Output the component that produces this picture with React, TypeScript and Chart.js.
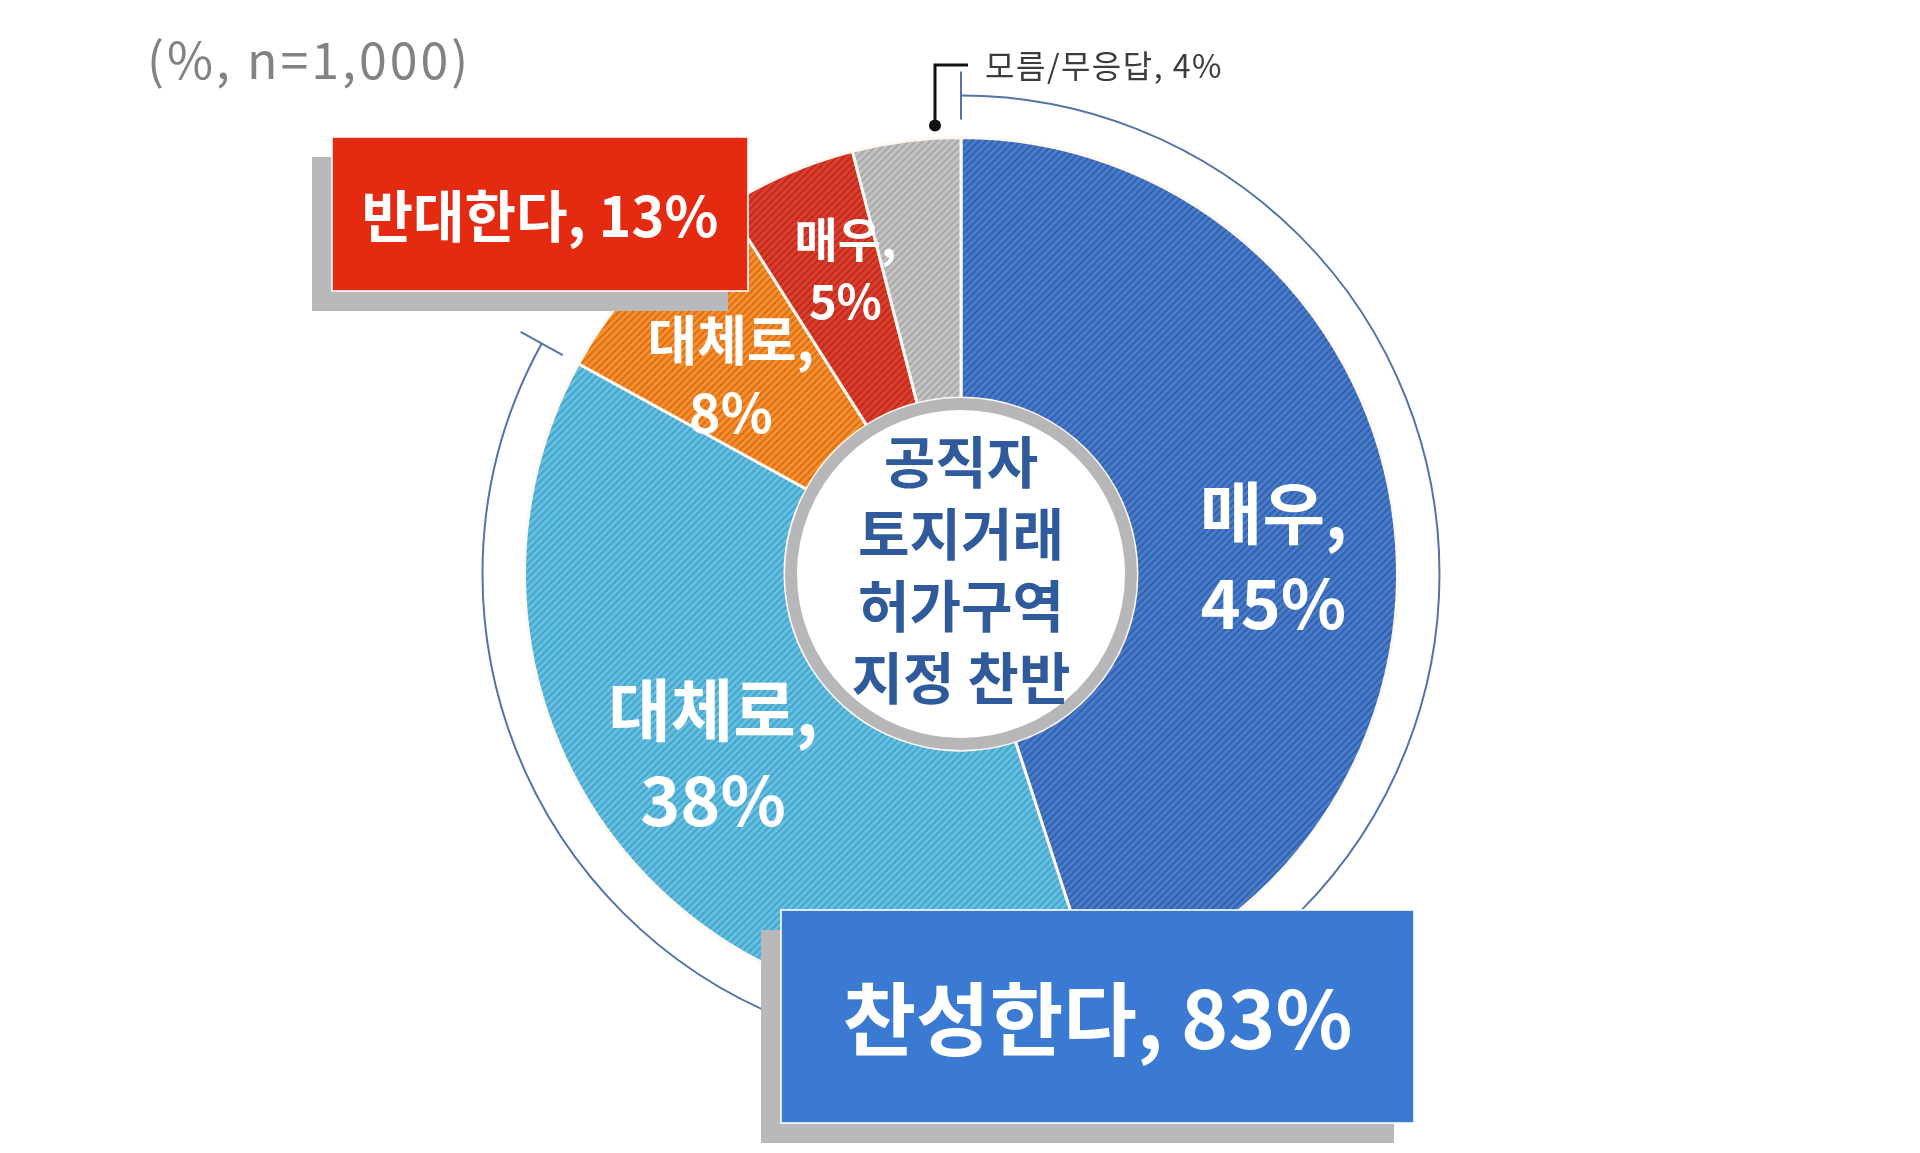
import React, { useEffect, useRef } from 'react';
import { Chart, registerables } from 'chart.js';

Chart.register(...registerables);

// survey data (%), clockwise from 12 o'clock
const categories = ['매우 찬성', '대체로 찬성', '대체로 반대', '매우 반대', '모름/무응답'];
const shortNames = ['매우', '대체로', '대체로', '매우', '모름/무응답'];
const values = [45, 38, 8, 5, 4];
const agreeIdx = [0, 1];
const disagreeIdx = [2, 3];
const agreeName = '찬성한다';
const disagreeName = '반대한다';
const centerLines = ['공직자', '토지거래', '허가구역', '지정 찬반'];
const note = '(%, n=1,000)';

const FONT = '"Noto Sans CJK KR", "Noto Sans", sans-serif';

function hatch(base: string, stripe: string) {
  const s = 7;
  const c = document.createElement('canvas');
  c.width = s;
  c.height = s;
  const g = c.getContext('2d')!;
  g.fillStyle = base;
  g.fillRect(0, 0, s, s);
  g.strokeStyle = stripe;
  g.lineWidth = 2.2;
  g.beginPath();
  g.moveTo(0, s);
  g.lineTo(s, 0);
  g.moveTo(-1, 1);
  g.lineTo(1, -1);
  g.moveTo(s - 1, s + 1);
  g.lineTo(s + 1, s - 1);
  g.stroke();
  return g.createPattern(c, 'repeat')!;
}

const sum = (idx: number[]) => idx.reduce((a, i) => a + values[i], 0);

function box(ctx: CanvasRenderingContext2D, x: number, y: number, w: number, h: number, fill: string, text: string, size: number) {
  ctx.fillStyle = '#b9b9bb';
  ctx.fillRect(x - 20, y + 20, w, h);
  ctx.fillStyle = fill;
  ctx.fillRect(x, y, w, h);
  ctx.strokeStyle = 'rgba(255,255,255,0.8)';
  ctx.lineWidth = 2;
  ctx.strokeRect(x, y, w, h);
  ctx.fillStyle = '#ffffff';
  ctx.font = `bold ${size}px ${FONT}`;
  ctx.textAlign = 'center';
  ctx.textBaseline = 'middle';
  ctx.fillText(text, x + w / 2, y + h / 2 + 2);
}

// label font size and nudge for each slice label
const labelStyle = [
  { size: 68, dx: 10, dy: 32 },
  { size: 68, dx: -12, dy: -14 },
  { size: 54, dx: -7, dy: 12 },
  { size: 47, dx: 6, dy: -23 },
];

const overlay = {
  id: 'overlay',
  afterDatasetsDraw(chart: any) {
    const ctx: CanvasRenderingContext2D = chart.ctx;
    const arcs = chart.getDatasetMeta(0).data;
    const { x: cx, y: cy, outerRadius: R, innerRadius: r } = arcs[0];

    ctx.save();

    // bracket arc for the "agree" group
    const ar = R + 42;
    const a0 = arcs[agreeIdx[0]].startAngle;
    const a1 = arcs[agreeIdx[agreeIdx.length - 1]].endAngle;
    ctx.strokeStyle = '#5274a8';
    ctx.lineWidth = 2;
    ctx.beginPath();
    ctx.arc(cx, cy, ar, a0, a1);
    ctx.stroke();
    for (const a of [a0, a1]) {
      ctx.beginPath();
      ctx.moveTo(cx + Math.cos(a) * (ar - 24), cy + Math.sin(a) * (ar - 24));
      ctx.lineTo(cx + Math.cos(a) * (ar + 24), cy + Math.sin(a) * (ar + 24));
      ctx.stroke();
    }

    // centre disc
    ctx.fillStyle = '#ffffff';
    ctx.beginPath();
    ctx.arc(cx, cy, r, 0, Math.PI * 2);
    ctx.fill();
    ctx.strokeStyle = '#b7b7b9';
    ctx.lineWidth = 12;
    ctx.beginPath();
    ctx.arc(cx, cy, r - 6, 0, Math.PI * 2);
    ctx.stroke();

    ctx.fillStyle = '#2f5a9c';
    ctx.font = `bold 56px ${FONT}`;
    ctx.textAlign = 'center';
    ctx.textBaseline = 'middle';
    const lh = 72;
    centerLines.forEach((t, i) => {
      ctx.fillText(t, cx, cy - 4 + (i - (centerLines.length - 1) / 2) * lh);
    });

    // slice labels
    labelStyle.forEach((st, i) => {
      const a = arcs[i];
      const mid = (a.startAngle + a.endAngle) / 2;
      const rr = (r + R) / 2;
      const x = cx + Math.cos(mid) * rr + st.dx;
      const y = cy + Math.sin(mid) * rr + st.dy;
      const gap = st.size * 1.32;
      ctx.fillStyle = '#ffffff';
      ctx.font = `bold ${st.size}px ${FONT}`;
      ctx.fillText(`${shortNames[i]},`, x, y - gap / 2);
      ctx.fillText(`${values[i]}%`, x, y + gap / 2);
    });

    // group boxes
    box(ctx, 332, 137, 416, 154, '#e52a12', `${disagreeName}, ${sum(disagreeIdx)}%`, 56);
    box(ctx, 781, 910, 633, 213, '#3a7ad3', `${agreeName}, ${sum(agreeIdx)}%`, 80);

    // "don't know" callout
    const dx = cx - 26;
    const dy = cy - R - 12;
    ctx.strokeStyle = '#111111';
    ctx.lineWidth = 3;
    ctx.beginPath();
    ctx.moveTo(dx, dy);
    ctx.lineTo(dx, 65);
    ctx.lineTo(dx + 33, 65);
    ctx.stroke();
    ctx.fillStyle = '#111111';
    ctx.beginPath();
    ctx.arc(dx, dy, 6, 0, Math.PI * 2);
    ctx.fill();
    ctx.fillStyle = '#3c3c3c';
    ctx.font = `32px ${FONT}`;
    ctx.textAlign = 'left';
    (ctx as any).letterSpacing = '1.5px';
    ctx.fillText(`${shortNames[4]}, ${values[4]}%`, 985, 66);

    // sample note
    ctx.fillStyle = '#828282';
    ctx.font = `50px ${FONT}`;
    (ctx as any).letterSpacing = '3px';
    ctx.fillText(note, 147, 60);
    (ctx as any).letterSpacing = '0px';

    ctx.restore();
  },
};

export default function App() {
  const canvasRef = useRef<HTMLCanvasElement>(null);

  useEffect(() => {
    if (!canvasRef.current) return;
    const fills = [
      hatch('#4a7cc9', '#3263b0'),
      hatch('#66c0e2', '#48a6cc'),
      hatch('#f5922e', '#e0701a'),
      hatch('#dc3f2e', '#bf2c1e'),
      hatch('#c4c4c4', '#a9a9a9'),
    ];
    const chart = new Chart(canvasRef.current, {
      type: 'doughnut',
      data: {
        labels: categories,
        datasets: [
          {
            data: values,
            backgroundColor: fills,
            borderColor: '#fff8f0',
            borderWidth: 3,
          },
        ],
      },
      options: {
        responsive: false,
        animation: false,
        devicePixelRatio: 1,
        cutout: 176,
        layout: { padding: { left: 523, right: 521, top: 136, bottom: 141 } },
        plugins: {
          legend: { display: false },
          tooltip: { enabled: false },
        },
      },
      plugins: [overlay],
    });
    return () => chart.destroy();
  }, []);

  return (
    <div style={{ position: 'fixed', left: 0, top: 0, width: 1920, height: 1153, background: '#ffffff' }}>
      <canvas ref={canvasRef} width={1920} height={1153} style={{ display: 'block' }} />
    </div>
  );
}
